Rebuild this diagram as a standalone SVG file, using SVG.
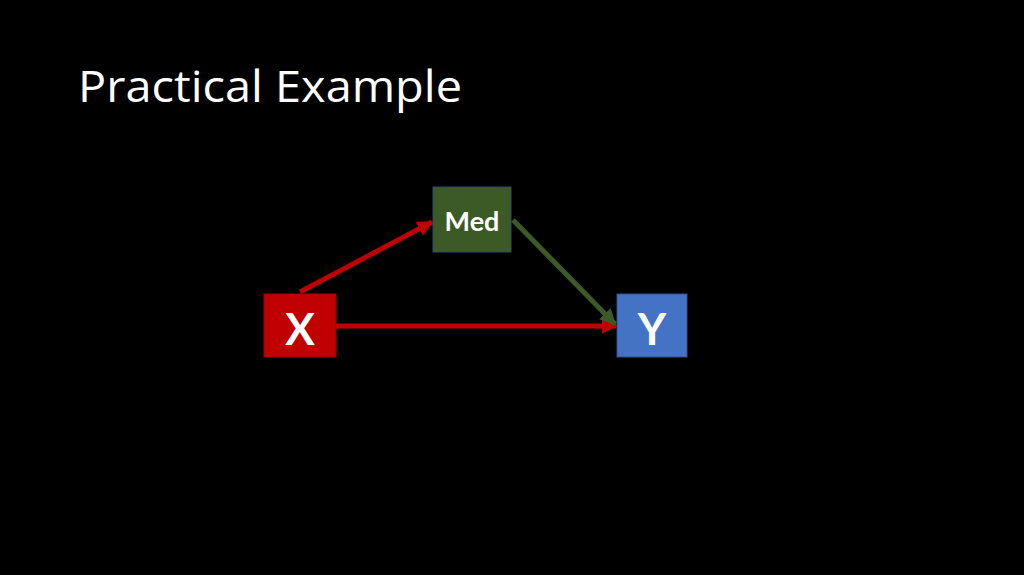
<svg xmlns="http://www.w3.org/2000/svg" width="1024" height="575" viewBox="0 0 1024 575">
<style>
.t{font-family:"Open Sans",Lato,sans-serif;fill:#fff}
.lbl{font-family:Lato,"Open Sans",sans-serif;font-weight:bold;fill:#fff;text-anchor:middle}
</style>
<defs>
<marker id="ar" viewBox="0 0 10 10" refX="9" refY="5" markerWidth="3.2" markerHeight="3.2" orient="auto" markerUnits="strokeWidth"><path d="M0,0L10,5L0,10z" fill="#c00000"/></marker>
<marker id="ag" viewBox="0 0 10 10" refX="9" refY="5" markerWidth="3.2" markerHeight="3.2" orient="auto" markerUnits="strokeWidth"><path d="M0,0L10,5L0,10z" fill="#3b5a25"/></marker>
</defs>
<rect width="1024" height="575" fill="#000"/>
<text class="t" x="78" y="102" font-size="43" textLength="384" lengthAdjust="spacingAndGlyphs">Practical Example</text>
<g id="connectors">
<line x1="300" y1="292" x2="432" y2="222" stroke="#c00000" stroke-width="5" marker-end="url(#ar)"/>
<line x1="336" y1="326" x2="616" y2="326" stroke="#c00000" stroke-width="5" marker-end="url(#ar)"/>
<line x1="513" y1="220" x2="615" y2="324" stroke="#3b5a25" stroke-width="5" marker-end="url(#ag)"/>
</g>
<g id="X"><rect x="264" y="294" width="72" height="63" fill="#c00000" stroke="#a00000"/><text class="lbl" x="300" y="345" font-size="44">X</text></g>
<g id="Med"><rect x="433" y="187" width="78" height="65" fill="#3b5a25" stroke="#2f4a6a"/><text class="lbl" x="472" y="231" font-size="27">Med</text></g>
<g id="Y"><rect x="617" y="294" width="70" height="63" fill="#4472c4" stroke="#2f528f"/><text class="lbl" x="652" y="345" font-size="44">Y</text></g>
</svg>
